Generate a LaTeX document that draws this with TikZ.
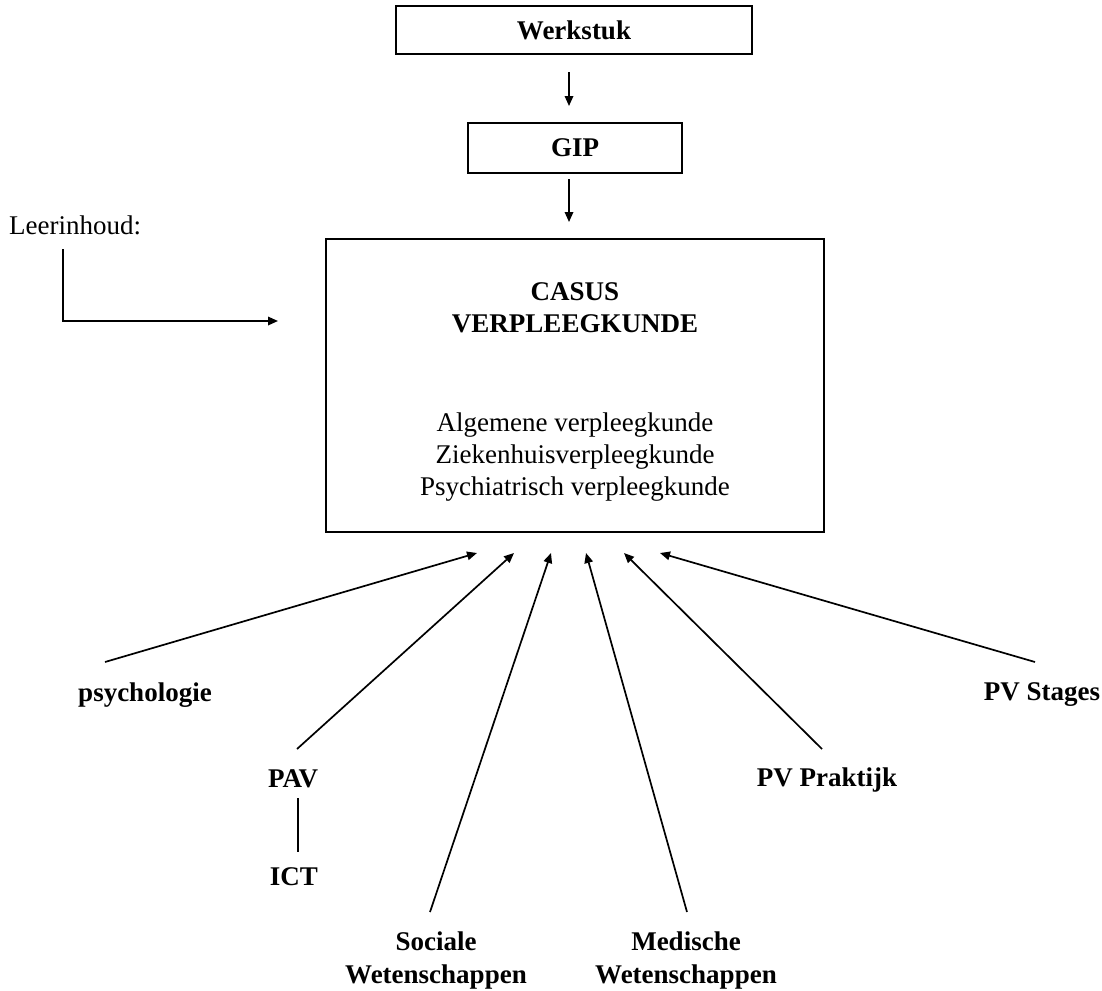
\documentclass[tikz,border=0pt]{standalone}
\usepackage{fontspec}
\setmainfont{Liberation Serif}
\usetikzlibrary{arrows.meta}
\begin{document}
\begin{tikzpicture}[x=1pt,y=-1pt,
  every node/.style={font=\fontsize{27}{32}\selectfont, inner sep=0pt},
  box/.style={draw, line width=2pt, align=center},
  arr/.style={line width=1.7pt, -{Triangle[length=10pt,width=8.5pt]}},
  conn/.style={line width=1.7pt},
  lbl/.style={font=\fontsize{27}{33}\selectfont\bfseries, align=center}]
\useasboundingbox (0,0) rectangle (1102,990);
% boxes
\node[box, minimum width=356pt, minimum height=48pt, font=\fontsize{27}{32}\selectfont\bfseries] (werk) at (574,30) {Werkstuk};
\node[box, minimum width=214pt, minimum height=50pt, font=\fontsize{27}{32}\selectfont\bfseries] (gip) at (575,148) {GIP};
\node[box, minimum width=498pt, minimum height=293pt] (casus) at (575,385.5) {};
\node[align=center] (casustxt) at (575,392)
  {\textbf{CASUS}\\\textbf{VERPLEEGKUNDE}\\[67pt]Algemene verpleegkunde\\Ziekenhuisverpleegkunde\\Psychiatrisch verpleegkunde};
% top arrows
\draw[arr] ([xshift=-5pt,yshift=-17pt]werk.south) -- ([xshift=-6pt,yshift=16pt]gip.north);
\draw[arr] ([xshift=-6pt,yshift=-5pt]gip.south) -- ([xshift=-6pt,yshift=16pt]casus.north);
% Leerinhoud
\node[anchor=west] (leer) at (9,225) {Leerinhoud:};
\coordinate (lstart) at (63,249);
\coordinate (lcorner) at (63,321);
\draw[arr] (lstart) -- (lcorner) -- ([xshift=-47pt]casus.west |- lcorner);
% labels
\node[lbl] (psy) at (145,695) {psychologie};
\node[lbl] (pav) at (293,779) {PAV};
\node[lbl] (ict) at (294,877) {ICT};
\node[lbl] (soc) at (436,960) {Sociale\\Wetenschappen};
\node[lbl] (med) at (686,960) {Medische\\Wetenschappen};
\node[lbl] (prak) at (827,780) {PV Praktijk};
\node[lbl] (stag) at (1042,695) {PV Stages};
% tails
\coordinate (tpsy) at (105,662);
\coordinate (tpav) at (297,749);
\coordinate (tsoc) at (430,912);
\coordinate (tmed) at (687,912);
\coordinate (tprak) at (822,749);
\coordinate (tstag) at (1035,662);
% heads
\coordinate (hpsy) at ([xshift=-98pt,yshift=-20pt]casus.south);
\coordinate (hpav) at ([xshift=-61pt,yshift=-20pt]casus.south);
\coordinate (hsoc) at ([xshift=-24pt,yshift=-20pt]casus.south);
\coordinate (hmed) at ([xshift=11pt,yshift=-20pt]casus.south);
\coordinate (hprak) at ([xshift=49pt,yshift=-20pt]casus.south);
\coordinate (hstag) at ([xshift=85pt,yshift=-20pt]casus.south);
\draw[arr] (tpsy) -- (hpsy);
\draw[arr] (tpav) -- (hpav);
\draw[arr] (tsoc) -- (hsoc);
\draw[arr] (tmed) -- (hmed);
\draw[arr] (tprak) -- (hprak);
\draw[arr] (tstag) -- (hstag);
\draw[conn] ([xshift=5pt,yshift=-10pt]pav.south) -- ([xshift=4pt,yshift=16pt]ict.north);
\end{tikzpicture}
\end{document}
